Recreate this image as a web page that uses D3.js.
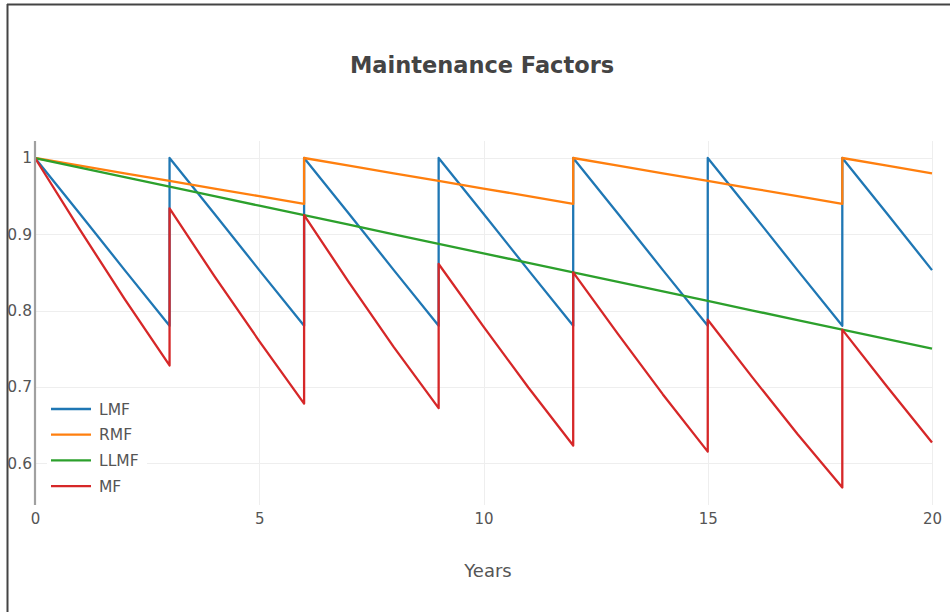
<!DOCTYPE html>
<html>
<head>
<meta charset="utf-8">
<script src="https://cdn.jsdelivr.net/npm/d3@7"></script>
<style>
  body { margin: 0; background: #fff; }
  svg { display: block; }
</style>
</head>
<body>
<svg id="chart"></svg>
<script>
// Years, with duplicated x where the lamps are replaced / room cleaned
var years = [0, 1, 2, 3, 3, 4, 5, 6, 6, 7, 8, 9, 9, 10, 11, 12, 12, 13, 14, 15, 15, 16, 17, 18, 18, 19, 20];

var lmf = [1, 0.927, 0.853, 0.78, 1, 0.927, 0.853, 0.78, 1, 0.927, 0.853, 0.78, 1, 0.927,
  0.853, 0.78, 1, 0.927, 0.853, 0.78, 1, 0.927, 0.853, 0.78, 1, 0.927, 0.853];
var rmf = [1, 0.99, 0.98, 0.97, 0.97, 0.96, 0.95, 0.94, 1, 0.99, 0.98, 0.97, 0.97, 0.96,
  0.95, 0.94, 1, 0.99, 0.98, 0.97, 0.97, 0.96, 0.95, 0.94, 1, 0.99, 0.98];
var llmf = [1, 0.9875, 0.975, 0.9625, 0.9625, 0.95, 0.9375, 0.925, 0.925, 0.9125, 0.9, 0.8875, 0.8875, 0.875,
  0.8625, 0.85, 0.85, 0.8375, 0.825, 0.8125, 0.8125, 0.8, 0.7875, 0.775, 0.775, 0.7625, 0.75];
var mf = [1, 0.906, 0.815, 0.728, 0.934, 0.845, 0.760, 0.678, 0.925, 0.837, 0.752, 0.672, 0.861, 0.779,
  0.699, 0.623, 0.85, 0.769, 0.690, 0.615, 0.788, 0.712, 0.638, 0.568, 0.775, 0.700, 0.627];

var seriesNames = ["LMF", "RMF", "LLMF", "MF"];
var seriesValues = [lmf, rmf, llmf, mf];
var colors = ["#1f77b4", "#ff7f0e", "#2ca02c", "#d62728"];

var xTicks = [0, 5, 10, 15, 20];
var yTicks = [0.6, 0.7, 0.8, 0.9, 1];

var svgWidth = 950;
var svgHeight = 612;
var plot = { left: 35, right: 932, top: 141, bottom: 505 };
var font = "'DejaVu Sans', Verdana, sans-serif";

var svg = d3.select("#chart")
  .attr("width", svgWidth)
  .attr("height", svgHeight);

// page frame (left and top edges)
svg.append("line").attr("x1", 7.5).attr("x2", 7.5).attr("y1", 4).attr("y2", svgHeight)
  .attr("stroke", "#444").attr("stroke-width", 2);
svg.append("line").attr("x1", 7).attr("x2", svgWidth).attr("y1", 4.5).attr("y2", 4.5)
  .attr("stroke", "#444").attr("stroke-width", 2);

var xScale = d3.scaleLinear().domain([0, 20]).range([plot.left, plot.right]);
var yScale = d3.scaleLinear().domain([0.545, 1.0223]).range([plot.bottom, plot.top]);

// grid
svg.append("g")
  .selectAll("line")
  .data(yTicks)
  .enter()
  .append("line")
  .attr("x1", plot.left)
  .attr("x2", plot.right)
  .attr("y1", function (d) { return Math.round(yScale(d)) + 0.5; })
  .attr("y2", function (d) { return Math.round(yScale(d)) + 0.5; })
  .attr("stroke", "#eee")
  .attr("stroke-width", 1);

svg.append("g")
  .selectAll("line")
  .data(xTicks.slice(1))
  .enter()
  .append("line")
  .attr("x1", function (d) { return Math.round(xScale(d)) + 0.5; })
  .attr("x2", function (d) { return Math.round(xScale(d)) + 0.5; })
  .attr("y1", plot.top)
  .attr("y2", plot.bottom)
  .attr("stroke", "#eee")
  .attr("stroke-width", 1);

// axes (labels only, plus the gray y axis line)
var xAxis = svg.append("g")
  .attr("transform", "translate(0," + (plot.bottom + 4) + ")")
  .call(d3.axisBottom(xScale).tickValues(xTicks).tickSize(0).tickPadding(4).tickFormat(d3.format("d")));
xAxis.select(".domain").remove();
xAxis.selectAll("text")
  .style("font-family", font)
  .style("font-size", "15px")
  .attr("fill", "#555");

var yAxis = svg.append("g")
  .attr("transform", "translate(" + (plot.left - 3) + ",0)")
  .call(d3.axisLeft(yScale).tickValues(yTicks).tickSize(0).tickPadding(0).tickFormat(function (d) { return d === 1 ? "1" : d3.format(".1f")(d); }));
yAxis.select(".domain").remove();
yAxis.selectAll("text")
  .style("font-family", font)
  .style("font-size", "15.5px")
  .attr("fill", "#555");

// lines
var line = d3.line()
  .x(function (d) { return xScale(d[0]); })
  .y(function (d) { return yScale(d[1]); });

seriesValues.forEach(function (vals, i) {
  var pts = years.map(function (y, j) { return [y, vals[j]]; });
  svg.append("path")
    .datum(pts)
    .attr("d", line)
    .attr("fill", "none")
    .attr("stroke", colors[i])
    .attr("stroke-width", 2.3)
    .attr("stroke-linejoin", "round");
});

svg.append("line")
  .attr("x1", plot.left).attr("x2", plot.left)
  .attr("y1", plot.top).attr("y2", plot.bottom)
  .attr("stroke", "#a0a0a0").attr("stroke-width", 2.2);

// legend
var legend = svg.append("g").attr("transform", "translate(47,396)");
legend.append("rect")
  .attr("width", 100).attr("height", 102)
  .attr("fill", "#fff");
seriesNames.forEach(function (name, i) {
  var y = 13 + i * 25.7;
  legend.append("line")
    .attr("x1", 4).attr("x2", 44)
    .attr("y1", y).attr("y2", y)
    .attr("stroke", colors[i]).attr("stroke-width", 2.3);
  legend.append("text")
    .attr("x", 52).attr("y", y)
    .attr("dy", "0.36em")
    .style("font-family", font)
    .style("font-size", "15.5px")
    .attr("fill", "#555")
    .text(name);
});

// title and axis title
svg.append("text")
  .attr("x", 482)
  .attr("y", 73)
  .attr("text-anchor", "middle")
  .style("font-family", font)
  .style("font-size", "22.5px")
  .style("font-weight", "bold")
  .attr("fill", "#444")
  .text("Maintenance Factors");

svg.append("text")
  .attr("x", 488)
  .attr("y", 577)
  .attr("text-anchor", "middle")
  .style("font-family", font)
  .style("font-size", "18px")
  .attr("fill", "#555")
  .text("Years");
</script>
</body>
</html>
